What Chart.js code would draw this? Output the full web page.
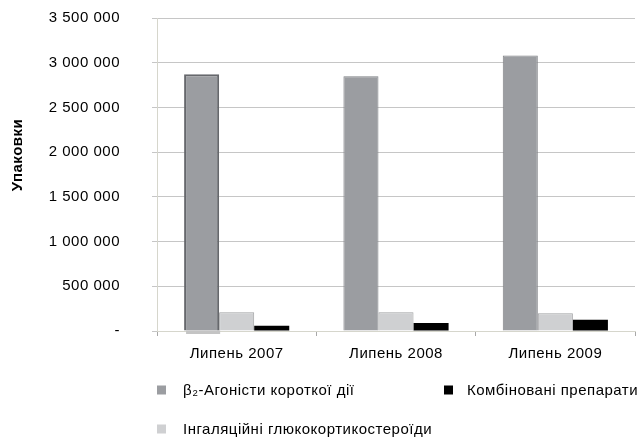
<!DOCTYPE html>
<html>
<head>
<meta charset="utf-8">
<script src="https://cdn.jsdelivr.net/npm/chart.js@4.4.1/dist/chart.umd.min.js"></script>
<style>
  html, body { margin: 0; padding: 0; background: #ffffff; }
  #wrap { width: 640px; height: 442px; position: relative; }
</style>
</head>
<body>
<div id="wrap"><canvas id="chart" width="640" height="442"></canvas></div>
<script>
// Sales volume of inhaled asthma drugs, packages per July
const categories = ['Липень 2007', 'Липень 2008', 'Липень 2009'];
const seriesNames = ['β₂-Агоністи короткої дії', 'Інгаляційні глюкокортикостероїди', 'Комбіновані препарати'];
const saba = [2870000, 2850000, 3080000];
const ics = [210000, 210000, 198000];
const combined = [58000, 90000, 126000];
const yTicks = [0, 500000, 1000000, 1500000, 2000000, 2500000, 3000000, 3500000];
const yTitle = 'Упаковки';

const FONT = '"Liberation Sans", Arial, sans-serif';
const SPACING = '0.5px';

function formatThousands(v) {
  if (v === 0) return '-';
  return String(v).replace(/\B(?=(\d{3})+(?!\d))/g, ' ');
}

// Slightly wider text tracking for every label on the canvas
const tracking = {
  id: 'tracking',
  beforeUpdate(chart) { chart.ctx.letterSpacing = SPACING; },
  beforeLayout(chart) { chart.ctx.letterSpacing = SPACING; },
  beforeDraw(chart) { chart.ctx.letterSpacing = SPACING; }
};

// Rotated axis caption beside the value labels
const axisCaption = {
  id: 'axisCaption',
  afterDraw(chart, args, opts) {
    const ctx = chart.ctx;
    ctx.save();
    ctx.translate(opts.x, opts.y);
    ctx.rotate(-Math.PI / 2);
    ctx.font = 'bold 15px ' + FONT;
    ctx.fillStyle = '#000000';
    ctx.textAlign = 'center';
    ctx.textBaseline = 'middle';
    ctx.fillText(opts.text, 0, 0);
    ctx.restore();
  }
};

// Legend laid out in a 2-column grid under the plot
const gridLegend = {
  id: 'gridLegend',
  afterDraw(chart, args, opts) {
    const ctx = chart.ctx;
    ctx.save();
    ctx.font = '15px ' + FONT;
    ctx.textBaseline = 'middle';
    ctx.textAlign = 'left';
    opts.slots.forEach(slot => {
      const ds = chart.data.datasets[slot.dataset];
      ctx.fillStyle = ds.backgroundColor;
      ctx.fillRect(slot.x, slot.y - 4.5, 9, 9);
      ctx.fillStyle = '#000000';
      ctx.fillText(ds.label, slot.textX, slot.y + 1);
    });
    ctx.restore();
  }
};

// Soft shadow peeking out under selected bars
const barShadow = {
  id: 'barShadow',
  beforeDatasetsDraw(chart, args, opts) {
    const ctx = chart.ctx;
    ctx.save();
    opts.bars.forEach(b => {
      const el = chart.getDatasetMeta(b.dataset).data[b.index];
      const left = el.x - el.width / 2;
      ctx.fillStyle = '#c4c4c4';
      ctx.fillRect(left + 2, el.base, el.width - 1, 3.5);
    });
    ctx.restore();
  }
};

new Chart(document.getElementById('chart'), {
  type: 'bar',
  data: {
    labels: categories,
    datasets: [
      {
        label: seriesNames[0],
        data: saba,
        backgroundColor: '#9b9da1',
        borderColor: ['#66686c', '#7f8185', '#7f8185'],
        borderWidth: [2, 1, 1]
      },
      {
        label: seriesNames[1],
        data: ics,
        backgroundColor: '#cfd0d2',
        borderColor: '#a0a1a3',
        borderWidth: 1
      },
      {
        label: seriesNames[2],
        data: combined,
        backgroundColor: '#000000',
        borderColor: '#000000',
        borderWidth: 0
      }
    ]
  },
  options: {
    responsive: false,
    animation: false,
    devicePixelRatio: 1,
    layout: { padding: { top: 18, right: 5, left: 0, bottom: 0 } },
    datasets: {
      bar: { categoryPercentage: 0.66, barPercentage: 1.0 }
    },
    plugins: {
      legend: { display: false },
      tooltip: { enabled: false },
      axisCaption: { text: yTitle, x: 18, y: 155 },
      gridLegend: {
        slots: [
          { dataset: 0, x: 157, textX: 183, y: 390 },
          { dataset: 2, x: 444, textX: 467, y: 390 },
          { dataset: 1, x: 157, textX: 183, y: 429 }
        ]
      },
      barShadow: { bars: [{ dataset: 0, index: 0 }] }
    },
    scales: {
      x: {
        offset: true,
        grid: {
          offset: true,
          drawOnChartArea: false,
          drawTicks: true,
          tickLength: 5,
          color: '#a8a8a8'
        },
        border: { display: true, color: '#d6d6cc' },
        ticks: {
          color: '#000000',
          font: { family: FONT, size: 15 },
          padding: 9
        },
        afterFit(scale) { scale.height = 111; }
      },
      y: {
        min: 0,
        max: 3500000,
        afterBuildTicks(scale) {
          scale.ticks = yTicks.map(v => ({ value: v }));
        },
        grid: {
          color: '#c6c6c6',
          tickLength: 5,
          tickColor: '#c6c6c6'
        },
        border: { display: true, color: '#d6d6cc' },
        ticks: {
          color: '#000000',
          font: { family: FONT, size: 15 },
          padding: 32,
          callback: v => formatThousands(v)
        },
        afterFit(scale) {
          scale.width = 157;
          scale.paddingTop = 0;
          scale.paddingBottom = 0;
        }
      }
    }
  },
  plugins: [tracking, axisCaption, gridLegend, barShadow]
});
</script>
</body>
</html>
